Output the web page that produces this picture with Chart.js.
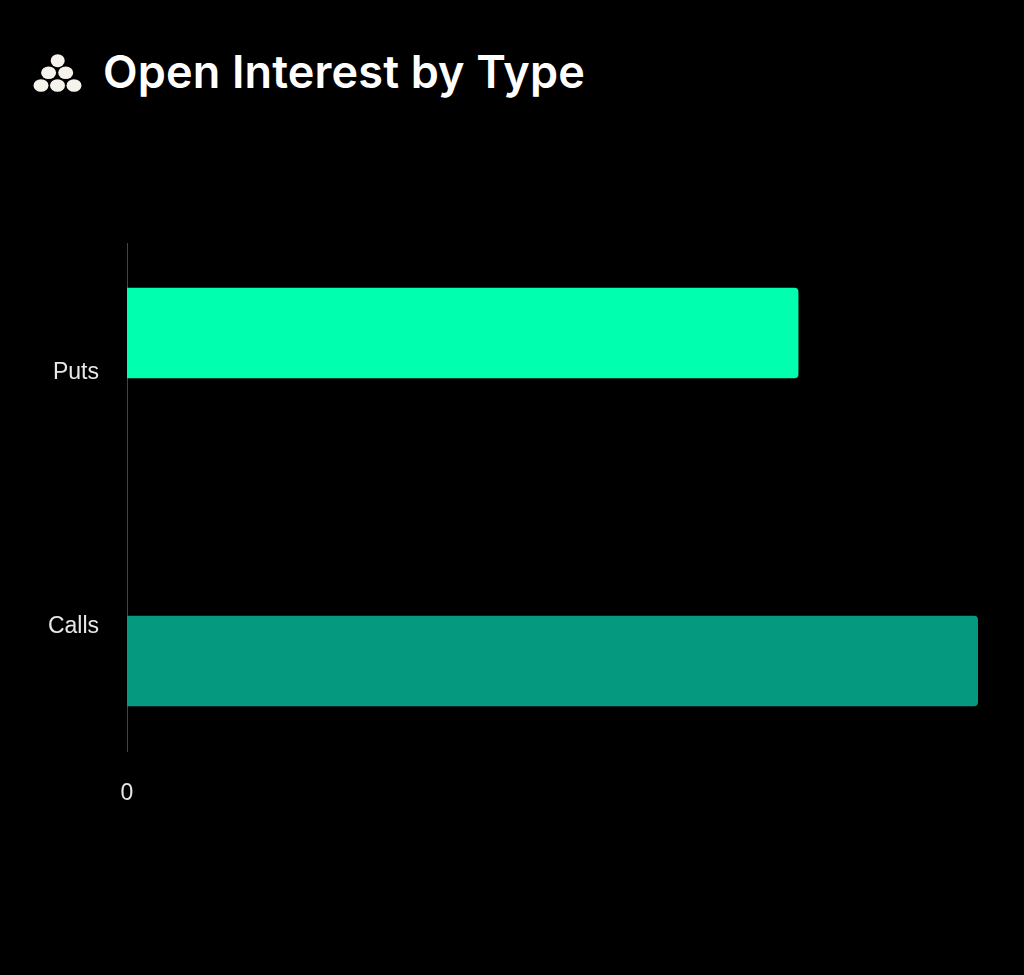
<!DOCTYPE html>
<html lang="en">
<head>
<meta charset="utf-8">
<title>Open Interest by Type</title>
<script src="https://cdn.jsdelivr.net/npm/chart.js@4/dist/chart.umd.min.js"></script>
<style>
    html, body { margin: 0; padding: 0; background: #000; }
    #page { position: relative; width: 1024px; height: 975px; overflow: hidden; }
    #icon { position: absolute; left: 30px; top: 50px; }
    #title {
        position: absolute; left: 103px; top: 44px; margin: 0;
        font: 600 45px/56px Inter, sans-serif; color: #fff; white-space: nowrap;
        letter-spacing: 0.15px;
    }
    canvas { position: absolute; left: 0; top: 0; }
</style>
</head>
<body>
<div id="page">
    <svg id="icon" width="52" height="46" viewBox="0 0 52 46" fill="#f5f3ec">
        <ellipse cx="27.7" cy="10.7" rx="7" ry="6.5"/>
        <ellipse cx="18.6" cy="22.7" rx="7.5" ry="6.3"/>
        <ellipse cx="35.7" cy="22.7" rx="7.5" ry="6.3"/>
        <ellipse cx="11" cy="35.5" rx="7.5" ry="6.3"/>
        <ellipse cx="27.5" cy="35.5" rx="7.5" ry="6.3"/>
        <ellipse cx="44" cy="35.5" rx="7.5" ry="6.3"/>
    </svg>
    <h1 id="title">Open Interest by Type</h1>
    <canvas id="chart" width="1024" height="975"></canvas>
</div>
<script>
// ===== DATA =====
var categories = ['Puts', 'Calls'];
var putsValues = [78.9, null];
var callsValues = [null, 100];
var xTickValues = [0];

// ===== CHART =====
var tickFont = { family: '"Liberation Sans", Arial, sans-serif', size: 23 };

new Chart(document.getElementById('chart'), {
    type: 'bar',
    data: {
        labels: categories,
        datasets: [
            { label: 'Puts', data: putsValues, backgroundColor: '#00ffae' },
            { label: 'Calls', data: callsValues, backgroundColor: '#05997f' }
        ]
    },
    options: {
        indexAxis: 'y',
        responsive: false,
        animation: false,
        // bars sit apart from the tick labels, so keep the two series as grouped slots
        categoryPercentage: 0.583,
        barPercentage: 1.225,
        borderRadius: { topLeft: 0, bottomLeft: 0, topRight: 4, bottomRight: 4 },
        borderSkipped: false,
        layout: { padding: { top: 243, right: 46, bottom: 0, left: 0 } },
        plugins: {
            legend: { display: false },
            title: { display: false },
            tooltip: { enabled: false }
        },
        scales: {
            x: {
                min: 0,
                max: 100,
                grid: { display: false },
                border: { display: false },
                afterBuildTicks: function(axis) {
                    axis.ticks = xTickValues.map(function(v) { return { value: v }; });
                },
                afterFit: function(axis) { axis.height = 224; },
                ticks: { color: '#e8e8e8', font: tickFont, padding: 21, maxRotation: 0 }
            },
            y: {
                grid: { display: false },
                border: { display: true, color: '#444444', width: 1 },
                afterFit: function(axis) { axis.width = 127; },
                ticks: { color: '#e8e8e8', font: tickFont, padding: 20, labelOffset: 3 }
            }
        }
    }
});
</script>
</body>
</html>
